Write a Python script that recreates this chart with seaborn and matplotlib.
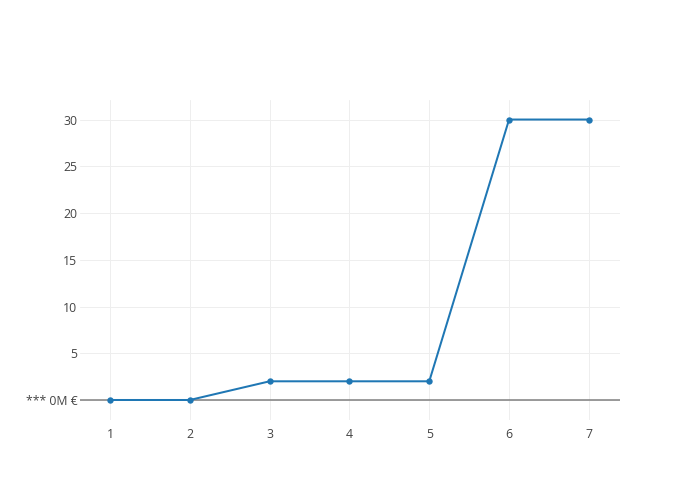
"""Line chart with markers, plotly-like styling."""

import matplotlib

matplotlib.use("Agg")
import matplotlib.pyplot as plt
import pandas as pd
import seaborn as sns

x_values = [1, 2, 3, 4, 5, 6, 7]
y_values = [0, 0, 2, 2, 2, 30, 30]
y_ticks = [0, 5, 10, 15, 20, 25, 30]
y_tick_labels = ["*** 0M €", "5", "10", "15", "20", "25", "30"]

df = pd.DataFrame({"x": x_values, "y": y_values})

sns.set_theme(style="white")
plt.rcParams["font.family"] = ["Open Sans", "DejaVu Sans"]

fig = plt.figure(figsize=(7, 5), dpi=100)
ax = fig.add_axes([80 / 700, 80 / 500, 540 / 700, 320 / 500])

line_color = "#1f77b4"
sns.lineplot(data=df, x="x", y="y", ax=ax, color=line_color, linewidth=1.45,
             marker="o", markersize=4.6, markeredgewidth=0, zorder=3)

ax.set_xlim(0.624, 7.39)
ax.set_ylim(-2.14, 32.09)
ax.set_xticks(x_values)
ax.set_yticks(y_ticks)
ax.set_yticklabels(y_tick_labels)
ax.grid(True, color="#eeeeee", linewidth=0.72)
ax.set_axisbelow(True)
# plotly-style zero line
ax.axhline(0, color="#808080", linewidth=1.1, zorder=2)

for spine in ax.spines.values():
    spine.set_visible(False)
ax.tick_params(axis="both", length=0, labelsize=8.8, labelcolor="#444444")
ax.tick_params(axis="y", pad=2)
ax.tick_params(axis="x", pad=6)
ax.set_xlabel("")
ax.set_ylabel("")

fig.savefig("out.png", dpi=100, facecolor="white")
